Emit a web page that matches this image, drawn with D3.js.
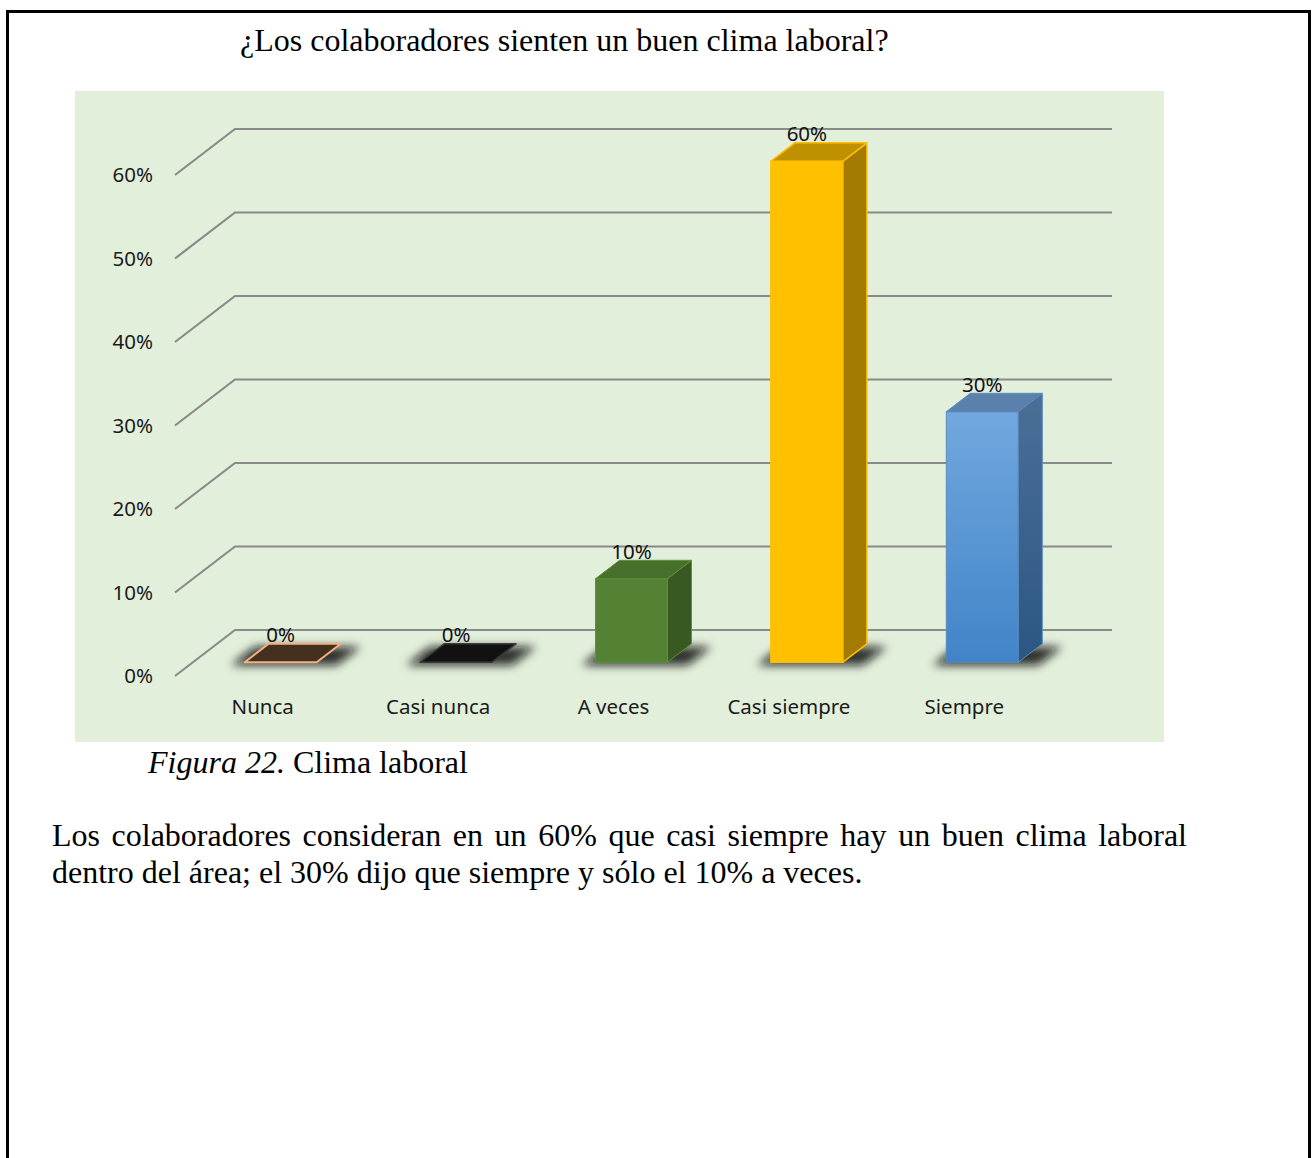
<!DOCTYPE html>
<html>
<head>
<meta charset="utf-8">
<script src="https://cdn.jsdelivr.net/npm/d3@7"></script>
<style>
  html, body { margin: 0; padding: 0; background: #ffffff; }
  svg { display: block; }
</style>
</head>
<body>
<div id="chart"></div>
<script>
// Survey answers: share of collaborators per response
const categories = ["Nunca", "Casi nunca", "A veces", "Casi siempre", "Siempre"];
const values = [0.00, 0.00, 0.10, 0.60, 0.30];
const yTicks = [0, 0.1, 0.2, 0.3, 0.4, 0.5, 0.6];

const chartTitle = "¿Los colaboradores sienten un buen clima laboral?";
const figureLabel = "Figura 22.";
const figureCaption = " Clima laboral";
const paragraphLines = [
  "Los colaboradores consideran en un 60% que casi siempre hay un buen clima laboral",
  "dentro del área; el 30% dijo que siempre y sólo el 10% a veces."
];

// Face colours for each bar: front, top, side, edge
const palette = [
  { front: "#43301f", top: "#43301f", side: "#2e2116", edge: "#f4b183", edgeW: 2 },
  { front: "#111111", top: "#111111", side: "#0a0a0a", edge: "#3c3c3c", edgeW: 1.5 },
  { front: "#548235", top: "#46702b", side: "#385a22", edge: "#5f9138", edgeW: 1 },
  { front: "#ffc000", top: "#bf9000", side: "#a37b00", edge: "#ffc000", edgeW: 1.5 },
  { front: ["#72a8de", "#4084c8"], top: "#5a80ab", side: ["#4b6f97", "#2b5784"], edge: "#5b8ac0", edgeW: 1 }
];

const W = 1314, H = 1158;
const svg = d3.select("#chart").append("svg").attr("width", W).attr("height", H);

const defs = svg.append("defs");
defs.append("filter").attr("id", "floorShadow")
  .attr("x", "-50%").attr("y", "-200%").attr("width", "200%").attr("height", "500%")
  .append("feGaussianBlur").attr("stdDeviation", 5);
const gradFront = defs.append("linearGradient").attr("id", "blueFront")
  .attr("x1", 0).attr("y1", 0).attr("x2", 0).attr("y2", 1);
gradFront.append("stop").attr("offset", 0).attr("stop-color", palette[4].front[0]);
gradFront.append("stop").attr("offset", 1).attr("stop-color", palette[4].front[1]);
const gradSide = defs.append("linearGradient").attr("id", "blueSide")
  .attr("x1", 0).attr("y1", 0).attr("x2", 0).attr("y2", 1);
gradSide.append("stop").attr("offset", 0).attr("stop-color", palette[4].side[0]);
gradSide.append("stop").attr("offset", 1).attr("stop-color", palette[4].side[1]);
function fillOf(v) { return Array.isArray(v) ? null : v; }

// Page frame
svg.append("path")
  .attr("d", "M7.5,1170 V11.5 H1309.5 V1170")
  .attr("fill", "none").attr("stroke", "#000").attr("stroke-width", 3);

const serif = "'Liberation Serif', 'Times New Roman', serif";
const sans = "'Noto Sans', 'Open Sans', sans-serif";
const serifSize = 32;
const sansSize = 20.5;

// Title
svg.append("text")
  .attr("x", 240).attr("y", 51)
  .attr("font-family", serif).attr("font-size", serifSize).attr("fill", "#000")
  .text(chartTitle);

// Chart area
svg.append("rect").attr("x", 75).attr("y", 91).attr("width", 1089).attr("height", 651)
  .attr("fill", "#e2efda");

// 3D geometry: front plane plus a receding floor/back wall
const DX = 60, DY = -46;           // full depth offset
const barD0 = 0.3, barD1 = 0.7;    // bar occupies the middle of the depth

const x = d3.scaleBand().domain(categories).range([175, 1052])
  .paddingInner(1 - 72 / 175.4).paddingOuter((1 - 72 / 175.4) / 2);
const y = d3.scaleLinear().domain([0, 0.6]).range([676, 175]);

// Gridlines: diagonal on the side wall, then across the back wall
const grid = svg.append("g");
grid.selectAll("path").data(yTicks).join("path")
  .attr("d", t => {
    const y0 = y(t);
    return `M${x.range()[0]},${y0} L${x.range()[0] + DX},${y0 + DY} L${x.range()[1] + DX},${y0 + DY}`;
  })
  .attr("fill", "none").attr("stroke", "#8a8a8a").attr("stroke-width", 2.2);

// Value axis labels
const yAxis = svg.append("g").attr("transform", `translate(${x.range()[0]},0)`)
  .call(d3.axisLeft(y).tickValues(yTicks).tickFormat(d3.format(".0%")).tickSize(0).tickPadding(22));
yAxis.select(".domain").remove();
yAxis.selectAll("text").attr("font-family", sans).attr("font-size", sansSize).attr("fill", "#1a1a1a");

// Category axis labels
const xAxis = svg.append("g").attr("transform", `translate(0,${y(0)})`)
  .call(d3.axisBottom(x).tickSize(0).tickPadding(23));
xAxis.select(".domain").remove();
xAxis.selectAll("text").attr("font-family", sans).attr("font-size", sansSize).attr("fill", "#1a1a1a");

// Bars
const bw = x.bandwidth();
const bdx = DX * (barD1 - barD0), bdy = DY * (barD1 - barD0);
const bars = categories.map((c, i) => {
  const bx = x(c) + DX * barD0;
  const base = y(0) + DY * barD0;
  const top = base - (y(0) - y(values[i]));
  return { c, i, v: values[i], bx, base, top, p: palette[i] };
});

const shadowG = svg.append("g").attr("filter", "url(#floorShadow)");
shadowG.selectAll("path").data(bars).join("path")
  .attr("d", b => {
    const l = b.bx - 14, r = b.bx + bw + 20, yb = b.base + 3;
    return `M${l},${yb} L${r},${yb} L${r + bdx},${yb + bdy} L${l + bdx},${yb + bdy} Z`;
  })
  .attr("fill", "#111").attr("opacity", 0.85);

const barG = svg.append("g").selectAll("g").data(bars).join("g");
// front face
barG.filter(b => b.v > 0).append("rect")
  .attr("x", b => b.bx).attr("y", b => b.top)
  .attr("width", bw).attr("height", b => b.base - b.top)
  .attr("fill", b => fillOf(b.p.front) || "url(#blueFront)")
  .attr("stroke", b => b.p.edge).attr("stroke-width", b => b.p.edgeW);
// side face
barG.filter(b => b.v > 0).append("path")
  .attr("d", b => `M${b.bx + bw},${b.top} L${b.bx + bw + bdx},${b.top + bdy} L${b.bx + bw + bdx},${b.base + bdy} L${b.bx + bw},${b.base} Z`)
  .attr("fill", b => fillOf(b.p.side) || "url(#blueSide)")
  .attr("stroke", b => b.p.edge).attr("stroke-width", b => b.p.edgeW).attr("stroke-linejoin", "round");
// top face
barG.append("path")
  .attr("d", b => `M${b.bx},${b.top} L${b.bx + bdx},${b.top + bdy} L${b.bx + bw + bdx},${b.top + bdy} L${b.bx + bw},${b.top} Z`)
  .attr("fill", b => b.p.top)
  .attr("stroke", b => b.p.edge).attr("stroke-width", b => b.p.edgeW).attr("stroke-linejoin", "round");

// Data labels
svg.append("g").selectAll("text").data(bars).join("text")
  .attr("x", b => b.bx + bw / 2).attr("y", b => b.top + bdy - 1.5)
  .attr("text-anchor", "middle")
  .attr("font-family", sans).attr("font-size", sansSize).attr("fill", "#111")
  .text(b => d3.format(".0%")(b.v));

// Figure caption
const cap = svg.append("text").attr("x", 148).attr("y", 773)
  .attr("font-family", serif).attr("font-size", serifSize).attr("fill", "#000");
cap.append("tspan").attr("font-style", "italic").text(figureLabel);
cap.append("tspan").text(figureCaption);

// Body paragraph, first line justified
const pLeft = 52, pRight = 1187;
paragraphLines.forEach((line, li) => {
  const yy = 846 + li * 36.5;
  if (li === paragraphLines.length - 1) {
    svg.append("text").attr("x", pLeft).attr("y", yy)
      .attr("font-family", serif).attr("font-size", serifSize).attr("fill", "#000").text(line);
    return;
  }
  const words = line.split(" ");
  const g = svg.append("g");
  const nodes = words.map(w => g.append("text").attr("y", yy)
    .attr("font-family", serif).attr("font-size", serifSize).attr("fill", "#000").text(w));
  const widths = nodes.map(n => n.node().getComputedTextLength());
  const gap = (pRight - pLeft - d3.sum(widths)) / (words.length - 1);
  let cx = pLeft;
  nodes.forEach((n, k) => { n.attr("x", cx); cx += widths[k] + gap; });
});
</script>
</body>
</html>
